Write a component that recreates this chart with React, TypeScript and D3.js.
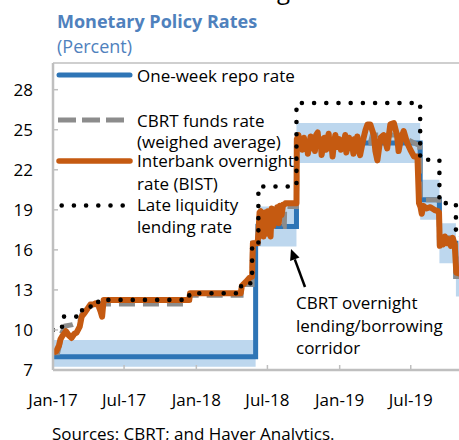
import React from 'react';
import * as d3 from 'd3';

const W = 459;
const H = 440;

const xTickDates = ['2017-01-01', '2017-07-01', '2018-01-01', '2018-07-01', '2019-01-01', '2019-07-01'];
const xTickLabels = ['Jan-17', 'Jul-17', 'Jan-18', 'Jul-18', 'Jan-19', 'Jul-19'];
const yTicks = [7, 10, 13, 16, 19, 22, 25, 28];

// One-week repo rate (step)
const repoRate: [string, number][] = [
  ['2017-01-01', 8], ['2018-06-01', 16.5], ['2018-06-07', 17.75], ['2018-09-13', 24],
  ['2019-07-25', 19.75], ['2019-09-12', 16.5], ['2019-10-24', 14], ['2019-12-31', 14],
];

// Overnight lending/borrowing corridor [date, low, high] (step)
const corridor: [string, number, number][] = [
  ['2017-01-01', 7.25, 9.25], ['2018-06-01', 15, 18], ['2018-06-07', 16.25, 19.25],
  ['2018-09-13', 22.5, 25.5], ['2019-07-25', 18.25, 21.25], ['2019-09-12', 15, 18],
  ['2019-10-24', 12.5, 15.5], ['2019-12-31', 12.5, 15.5],
];

// Late liquidity lending rate (step)
const lateLiquidity: [string, number][] = [
  ['2017-01-01', 10], ['2017-01-24', 11], ['2017-03-16', 11.75], ['2017-04-26', 12.25],
  ['2017-12-14', 12.75], ['2018-04-25', 13.5], ['2018-05-23', 16.5], ['2018-06-08', 20.75],
  ['2018-09-13', 27], ['2019-07-25', 22.75], ['2019-09-12', 19.5], ['2019-10-24', 17],
  ['2019-12-31', 17],
];

// CBRT funds rate (weighted average)
const fundsRate: [string, number][] = [
  ['2017-01-02', 8.3], ['2017-01-13', 8.3], ['2017-01-18', 8.9], ['2017-01-24', 9.8],
  ['2017-02-01', 10.3], ['2017-02-20', 10.4], ['2017-03-10', 10.6], ['2017-03-17', 11.3],
  ['2017-03-31', 11.6], ['2017-04-14', 11.85], ['2017-04-26', 11.95], ['2017-12-14', 11.95],
  ['2017-12-15', 12.6], ['2018-04-25', 12.6], ['2018-04-26', 13.4], ['2018-05-23', 13.4],
  ['2018-05-24', 16.5], ['2018-06-07', 16.5], ['2018-06-08', 17.75], ['2018-08-13', 17.75],
  ['2018-08-14', 19.25], ['2018-09-13', 19.25], ['2018-09-14', 24.0], ['2019-03-20', 24.0],
  ['2019-03-25', 24.6], ['2019-05-31', 24.6], ['2019-07-24', 23.8], ['2019-07-25', 19.75],
  ['2019-09-11', 19.75], ['2019-09-12', 16.9], ['2019-10-23', 16.9], ['2019-10-24', 14.0],
  ['2019-12-31', 14.0],
];

// Interbank overnight rate (BIST)
const interbankRate: [string, number][] = [
  ['2017-01-02', 8.3], ['2017-01-09', 8.4], ['2017-01-16', 8.8], ['2017-01-20', 9.3],
  ['2017-01-26', 9.6], ['2017-02-03', 9.9], ['2017-02-10', 9.6], ['2017-02-17', 9.4],
  ['2017-02-24', 9.7], ['2017-03-02', 9.8], ['2017-03-10', 10.25], ['2017-03-15', 11.0],
  ['2017-03-23', 11.3], ['2017-03-30', 11.6], ['2017-04-06', 11.9], ['2017-04-13', 11.9],
  ['2017-04-20', 12.0], ['2017-04-27', 11.8], ['2017-05-02', 11.4], ['2017-05-06', 11.0],
  ['2017-05-10', 12.25], ['2017-12-14', 12.25], ['2017-12-16', 12.75], ['2018-04-24', 12.75],
  ['2018-04-27', 13.3], ['2018-05-07', 13.6], ['2018-05-16', 13.9], ['2018-05-23', 14.0],
  ['2018-05-25', 16.5], ['2018-06-06', 16.5], ['2018-06-08', 17.2], ['2018-06-11', 18.8],
  ['2018-06-14', 18.9], ['2018-06-18', 17.6], ['2018-06-21', 17.0], ['2018-06-25', 18.8],
  ['2018-06-28', 17.2], ['2018-07-02', 18.9], ['2018-07-05', 17.3], ['2018-07-09', 17.0],
  ['2018-07-12', 19.1], ['2018-07-16', 17.8], ['2018-07-19', 18.8], ['2018-07-23', 18.4],
  ['2018-07-26', 19.2], ['2018-07-30', 18.0], ['2018-08-02', 19.3], ['2018-08-06', 18.6],
  ['2018-08-10', 19.4], ['2018-08-14', 19.4], ['2018-08-16', 19.5], ['2018-09-13', 19.5],
  ['2018-09-14', 24.3], ['2018-09-18', 24.6], ['2018-09-21', 23.8], ['2018-09-25', 24.2],
  ['2018-09-28', 23.5], ['2018-10-02', 24.4], ['2018-10-05', 23.7], ['2018-10-09', 24.1],
  ['2018-10-12', 23.2], ['2018-10-16', 24.0], ['2018-10-19', 24.5], ['2018-10-23', 23.6],
  ['2018-10-26', 24.2], ['2018-10-30', 23.4], ['2018-11-02', 24.6], ['2018-11-06', 24.8],
  ['2018-11-09', 23.9], ['2018-11-13', 24.3], ['2018-11-16', 23.1], ['2018-11-20', 23.8],
  ['2018-11-23', 24.4], ['2018-11-27', 23.5], ['2018-11-30', 24.2], ['2018-12-04', 24.7],
  ['2018-12-07', 23.6], ['2018-12-11', 23.9], ['2018-12-14', 23.0], ['2018-12-18', 24.1],
  ['2018-12-21', 24.6], ['2018-12-26', 23.7], ['2018-12-31', 24.3], ['2019-01-04', 23.5],
  ['2019-01-08', 24.2], ['2019-01-11', 23.8], ['2019-01-15', 24.6], ['2019-01-18', 23.3],
  ['2019-01-22', 24.0], ['2019-01-25', 24.4], ['2019-01-29', 23.6], ['2019-02-01', 24.1],
  ['2019-02-05', 23.2], ['2019-02-08', 24.3], ['2019-02-12', 23.7], ['2019-02-15', 24.5],
  ['2019-02-19', 23.4], ['2019-02-22', 23.1], ['2019-03-03', 24.4], ['2019-03-08', 25.0],
  ['2019-03-13', 25.4], ['2019-03-20', 25.4], ['2019-03-29', 24.6], ['2019-04-02', 23.4],
  ['2019-04-07', 22.7], ['2019-04-15', 24.4], ['2019-04-23', 24.6], ['2019-05-02', 23.6],
  ['2019-05-10', 25.4], ['2019-05-19', 25.5], ['2019-05-27', 24.6], ['2019-05-31', 23.4],
  ['2019-06-06', 24.3], ['2019-06-13', 24.9], ['2019-06-22', 24.0], ['2019-06-30', 23.5],
  ['2019-07-09', 23.0], ['2019-07-18', 23.0], ['2019-07-22', 19.5], ['2019-07-26', 19.2],
  ['2019-07-29', 18.7], ['2019-08-02', 19.3], ['2019-08-10', 19.1], ['2019-08-20', 19.2],
  ['2019-08-30', 19.0], ['2019-09-08', 18.9], ['2019-09-11', 18.8], ['2019-09-13', 16.3],
  ['2019-09-17', 16.9], ['2019-09-21', 16.4], ['2019-09-26', 17.0], ['2019-10-01', 16.5],
  ['2019-10-06', 16.8], ['2019-10-11', 16.3], ['2019-10-16', 16.9], ['2019-10-21', 16.4],
  ['2019-10-25', 14.3], ['2019-11-05', 14.2], ['2019-11-20', 14.0],
];

const legendItems = ['One-week repo rate', 'CBRT funds rate', '(weighed average)', 'Interbank overnight', 'rate (BIST)', 'Late liquidity', 'lending rate'];
const annotationLines = ['CBRT overnight', 'lending/borrowing', 'corridor'];

const FONT = "'Open Sans', 'Noto Sans', sans-serif";
const BLUE = '#2e75b6';
const BAND = '#bdd7ee';
const ORANGE = '#c55a11';
const GRAY = '#8c8c8c';
const AXIS = '#bfbfbf';

export default function App() {
  const parse = d3.timeParse('%Y-%m-%d');
  const P = (s: string) => parse(s) as Date;
  const x = d3.scaleTime().domain([P('2017-01-01'), P('2019-12-31')]).range([53, 53 + 0.3927 * 1094]);
  const y = d3.scaleLinear().domain([7, 30]).range([370, 63]);

  const stepLine = d3.line<[string, number]>().x(d => x(P(d[0]))).y(d => y(d[1])).curve(d3.curveStepAfter);
  const linLine = d3.line<[string, number]>().x(d => x(P(d[0]))).y(d => y(d[1]));
  const bandArea = d3.area<[string, number, number]>()
    .x(d => x(P(d[0]))).y0(d => y(d[1])).y1(d => y(d[2])).curve(d3.curveStepAfter);

  const plotLeft = 53, plotTop = 63, plotBottom = 370;

  // annotation arrow
  const tip = [291, 249], tail = [305, 287];
  const ang = Math.atan2(tip[1] - tail[1], tip[0] - tail[0]);
  const hl = 11, hw = 5;
  const bx = tip[0] - hl * Math.cos(ang), by = tip[1] - hl * Math.sin(ang);
  const head = `M${tip[0]},${tip[1]} L${bx + hw * Math.sin(ang)},${by - hw * Math.cos(ang)} L${bx - hw * Math.sin(ang)},${by + hw * Math.cos(ang)} Z`;

  const legendY = [81.5, 126.5, 148, 167, 189.5, 211, 233];

  return (
    <svg width={W} height={H} style={{ position: 'absolute', left: 0, top: 0, display: 'block', background: '#fff' }} fontFamily={FONT}>
      <rect x={0} y={0} width={W} height={H} fill="#fff" />
      <text x={277} y={-1} fontSize={24} fill="#000">g</text>
      <text x={57} y={28} fontSize={18} fontWeight="bold" fill="#4f81bd">Monetary Policy Rates</text>
      <text x={57} y={53} fontSize={18} fill="#4f81bd">(Percent)</text>

      <defs>
        <clipPath id="plotClip">
          <rect x={plotLeft} y={plotTop} width={W - plotLeft} height={plotBottom - plotTop} />
        </clipPath>
      </defs>

      {/* plot frame */}
      <line x1={plotLeft} y1={plotTop} x2={W} y2={plotTop} stroke={AXIS} strokeWidth={1.5} />

      <g clipPath="url(#plotClip)">
        <path d={bandArea(corridor) || ''} fill={BAND} />
        <path d={stepLine(repoRate) || ''} fill="none" stroke={BLUE} strokeWidth={5} />
        <path d={linLine(fundsRate) || ''} fill="none" stroke={GRAY} strokeWidth={5} strokeDasharray="16 8" />
        <path d={linLine(interbankRate) || ''} fill="none" stroke={ORANGE} strokeWidth={6} strokeLinejoin="round" />
        <path d={stepLine(lateLiquidity) || ''} fill="none" stroke="#000" strokeWidth={4.6} strokeLinecap="round" strokeDasharray="0 12.2" />
      </g>

      {/* axes */}
      <line x1={plotLeft} y1={plotTop} x2={plotLeft} y2={plotBottom} stroke={AXIS} strokeWidth={2.5} />
      <line x1={plotLeft} y1={plotBottom} x2={W} y2={plotBottom} stroke={AXIS} strokeWidth={2.5} />
      {yTicks.map(v => (
        <g key={v}>
          <line x1={plotLeft} x2={plotLeft + 5} y1={y(v)} y2={y(v)} stroke={AXIS} strokeWidth={1.5} />
          <text x={33} y={y(v)} dy="0.35em" textAnchor="end" fontSize={17} fill="#000">{v}</text>
        </g>
      ))}
      {xTickDates.map((d, i) => (
        <g key={d}>
          <line x1={x(P(d))} x2={x(P(d))} y1={plotBottom} y2={plotBottom - 5} stroke={AXIS} strokeWidth={1.5} />
          <text x={x(P(d))} y={406} textAnchor="middle" fontSize={17} fill="#000">{xTickLabels[i]}</text>
        </g>
      ))}

      {/* legend */}
      <line x1={59} x2={130} y1={75} y2={75} stroke={BLUE} strokeWidth={5} strokeLinecap="round" />
      <line x1={58} x2={125} y1={120} y2={120} stroke={GRAY} strokeWidth={5} strokeDasharray="18 6" />
      <line x1={59} x2={130} y1={161} y2={161} stroke={ORANGE} strokeWidth={5.5} strokeLinecap="round" />
      <line x1={61.7} x2={124} y1={205.5} y2={205.5} stroke="#000" strokeWidth={4.6} strokeLinecap="round" strokeDasharray="0 12.2" />
      {legendItems.map((t, i) => (
        <text key={t} x={137} y={legendY[i]} fontSize={17} fill="#000">{t}</text>
      ))}

      {/* annotation */}
      <line x1={tail[0]} y1={tail[1]} x2={bx} y2={by} stroke="#000" strokeWidth={2.5} />
      <path d={head} fill="#000" />
      {annotationLines.map((t, i) => (
        <text key={t} x={296} y={309 + i * 22.5} fontSize={17} fill="#000">{t}</text>
      ))}

      <text x={52} y={440} fontSize={17} fill="#000">Sources: CBRT; and Haver Analytics.</text>
    </svg>
  );
}
